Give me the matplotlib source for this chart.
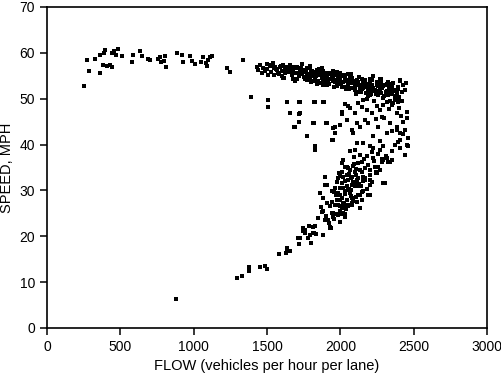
import matplotlib
matplotlib.use("Agg")
import matplotlib.pyplot as plt

# free-flow branch (low flow, high speed)
free_flow = [275, 327, 361, 391, 395, 441, 459, 486, 509, 384, 407, 441, 288, 361, 252,
             584, 577, 634, 645, 691, 770, 777, 805, 798, 811, 884, 918, 929, 975, 987,
             1009, 1066, 1084, 1089, 1123, 1100, 1225, 1248, 1334, 430, 470, 700, 760,
             1050, 1110]
free_speed = [58.5, 58.6, 59.5, 59.9, 60.6, 59.9, 60.3, 60.8, 59.3, 57.4, 57.2, 56.9, 56.0, 55.5, 52.7,
              59.5, 58.1, 60.4, 59.3, 58.6, 59.2, 58.1, 59.3, 58.3, 57.0, 59.9, 59.5, 58.1, 59.3, 58.3,
              57.6, 59.0, 57.7, 57.1, 59.3, 58.5, 56.6, 55.9, 58.4, 57.3, 59.6, 58.5, 58.6,
              58.0, 59.2]

# congested band near capacity (50-58 mph)
band_flow = [1430, 1452, 1475, 1498, 1520, 1543, 1464, 1509, 1566, 1589, 1611, 1634, 1657, 1680,
             1702, 1736, 1725, 1759, 1770, 1793, 1816, 1839, 1861, 1884, 1907, 1930, 1952, 1975,
             1998, 2020, 2043, 2066, 2089, 2111, 2134, 2157, 2180, 2202, 2225, 2248, 2270, 2293,
             2316, 2339, 2361, 2384, 2407, 1440, 1485, 1530, 1555, 1580, 1600, 1620, 1645, 1670,
             1690, 1715, 1745, 1780, 1805, 1828, 1850, 1872, 1895, 1918, 1940, 1962, 1985, 2008,
             2030, 2055, 2077, 2100, 2122, 2145, 2168, 2190, 2213, 2236, 2258, 2280, 2305, 2328,
             2350, 2372, 2395, 2418, 1500, 1550, 1600, 1650, 1700, 1750, 1800, 1850, 1900, 1950,
             2000, 2050, 2100, 2150, 2200, 2250, 2300, 2350, 2400, 1525, 1575, 1625, 1675, 1725,
             1775, 1825, 1875, 1925, 1975, 2025, 2075, 2125, 2175, 2225, 2275, 2325, 2375, 2430,
             1610, 1690, 1760, 1840, 1910, 1980, 2060, 2140, 2210, 2290, 2370, 2440, 2445, 2420,
             1660, 1740, 1820, 1890, 1960, 2040, 2110, 2190, 2260, 2340, 2400, 2180, 2230, 2280,
             2130, 2080, 2010, 1880, 1795, 1705, 1615, 1545, 2320, 2355, 2390, 2245, 2195, 2155,
             1560, 1595, 1640, 1665, 1710, 1735, 1765, 1785, 1810, 1835, 1858, 1880, 1905, 1925,
             1948, 1970, 1993, 2015, 2035, 2058, 2082, 2105, 2128, 2150, 2172, 2196, 2218, 2240,
             2262, 2285, 2310, 2332, 2355, 2378, 1740, 1770, 1800, 1830, 1860, 1890, 1920, 1950,
             1980, 2010, 2040, 2070, 2100, 2130, 2160, 2190, 2220, 2250, 2280, 2310, 2340, 2365,
             1625, 1680, 1720, 1790, 1855, 1915, 1990, 2065, 2135, 2205, 2270, 2335, 2395, 2410]
band_speed = [57.0, 57.3, 56.6, 57.6, 57.1, 57.7, 55.6, 55.2, 56.3, 57.0, 57.3, 56.6, 57.3, 56.3,
              57.0, 57.6, 56.0, 56.3, 55.2, 56.6, 55.6, 56.3, 55.2, 56.0, 54.9, 55.6, 54.5, 55.2,
              54.1, 54.9, 53.8, 54.5, 53.4, 54.1, 53.0, 53.8, 52.7, 53.4, 52.3, 53.0, 51.9, 52.7,
              51.6, 52.3, 53.4, 51.2, 54.1, 56.2, 56.0, 55.8, 56.9, 55.4, 56.1, 55.6, 55.9, 55.1,
              55.5, 54.9, 55.8, 54.6, 55.0, 54.2, 55.5, 54.6, 55.1, 53.9, 54.8, 53.6, 54.4, 53.3,
              54.3, 52.9, 54.6, 52.8, 53.6, 52.2, 54.0, 51.8, 53.0, 52.0, 52.7, 51.3, 53.0, 50.8,
              52.5, 50.6, 52.6, 51.5, 56.4, 56.8, 55.0, 56.5, 56.8, 54.8, 56.0, 53.8, 54.4, 56.0,
              55.6, 55.3, 52.0, 52.9, 54.3, 51.5, 50.5, 51.9, 50.4, 57.4, 55.5, 57.0, 54.4, 55.3,
              56.8, 54.8, 56.8, 53.1, 55.9, 52.6, 55.4, 54.8, 51.2, 54.9, 53.6, 53.7, 49.9, 52.9,
              54.5, 53.9, 54.2, 53.1, 53.0, 53.0, 52.2, 51.5, 51.0, 50.2, 49.8, 51.8, 53.5, 49.5,
              56.9, 55.3, 53.9, 53.4, 52.6, 52.2, 51.1, 50.6, 50.7, 49.4, 50.1, 50.0, 49.5, 54.2,
              51.5, 52.4, 52.5, 53.0, 54.2, 54.2, 54.5, 55.1, 53.2, 48.7, 49.2, 51.1, 51.7, 52.3,
              56.5, 57.2, 56.9, 56.1, 55.7, 56.7, 55.9, 55.4, 56.1, 55.0, 55.8, 54.4, 55.5, 54.2,
              55.1, 54.0, 54.9, 53.7, 55.2, 53.5, 54.1, 53.9, 52.9, 54.4, 53.1, 52.6, 54.1, 51.7,
              53.5, 52.4, 51.4, 53.2, 51.0, 52.0, 56.1, 54.1, 53.6, 55.8, 53.4, 55.4, 53.3, 53.9,
              52.8, 55.1, 54.0, 53.7, 53.0, 51.4, 52.5, 51.2, 51.6, 53.7, 52.9, 50.9, 51.5, 51.7,
              56.2, 56.9, 55.2, 57.1, 56.4, 55.3, 53.6, 52.4, 52.4, 50.9, 54.3, 52.4, 52.2, 53.8]

# transition points between the band and the congested branch
mid_flow = [1505, 1509, 1634, 1720, 1820, 1889, 1657, 1720, 1720, 1684, 1820, 1902, 1770, 1827,
            1941, 1964, 1998, 2043, 2054, 2009, 1634, 1725, 1827, 1884, 1657, 1725, 1816, 1907,
            2009, 1691, 1770, 1827, 1827, 1952, 1964, 1948, 2066, 2123, 2157, 2100, 2077, 2089,
            2111, 2134, 2168, 2191, 2214, 2248, 2270, 2293, 2316, 2361, 2384, 2452, 2452, 2259,
            2339, 2384, 2407, 2316, 2225, 2270, 2157, 2111, 2430, 2441, 2384, 2350, 2407, 1392,
            2400, 2415, 2330, 2300, 2180, 2240, 2285, 2030, 2150]
mid_speed = [49.7, 48.1, 49.3, 49.3, 49.3, 49.3, 46.8, 46.7, 45.0, 43.9, 44.8, 44.6, 41.8, 39.2,
             41.0, 43.8, 44.3, 45.4, 48.4, 47.2, 49.3, 49.3, 49.3, 49.3, 46.8, 46.8, 44.6, 44.6,
             46.7, 43.9, 41.8, 39.6, 38.8, 43.5, 42.5, 41.0, 47.9, 49.0, 49.7, 46.8, 43.2, 42.5,
             44.6, 43.9, 45.4, 44.6, 46.8, 48.3, 47.5, 48.6, 49.3, 49.0, 46.8, 47.2, 45.7, 43.9,
             44.6, 43.2, 42.5, 42.5, 41.8, 40.7, 40.3, 40.3, 45.0, 43.2, 43.9, 42.9, 41.0, 50.3,
             48.0, 46.2, 47.7, 45.8, 47.6, 45.6, 46.1, 48.8, 48.2]

# congested branch (speed falling with flow)
cong_flow = [2202, 2225, 2270, 2293, 2373, 2464, 2464, 2441, 2339, 2293, 2225, 2180, 2134, 2100,
             2066, 2020, 2009, 2032, 2066, 2100, 2134, 2168, 2202, 2236, 2270, 2304, 2202, 2157,
             2111, 2077, 2043, 2009, 1986, 2009, 2043, 2077, 2123, 2157, 2191, 2202, 2032, 1998,
             1986, 2066, 2123, 2293, 1895, 1907, 1964, 1975, 2009, 2043, 2077, 2054, 2020, 1986,
             1884, 1930, 1952, 1986, 2020, 2134, 1884, 1918, 1952, 1816, 1930, 1759, 1793, 1884,
             1714, 1634, 2452, 2407, 2441, 2384, 2350, 2407, 2327, 2350, 2282, 2248, 1895, 1748,
             1816, 1930, 1998, 2043, 1964, 2009, 2054, 2089, 2123, 2157, 2100, 2134, 2020, 1986,
             2202, 2214, 2060, 2090, 2150, 2170, 2115, 2050, 2000, 2180, 2240, 2105, 2075, 2140,
             2025, 1960, 1940, 2260, 2310, 2215, 2160, 2090, 2045, 1990, 2035, 2070, 2110, 2145,
             2190, 2230, 2255, 2120, 2085, 2050, 2015, 1975, 1945, 2060, 2095, 2130, 2165, 2200,
             2245, 2285, 2320, 2355, 2395, 2425, 2185, 2150, 2110, 2070, 2030, 2000, 1970, 2080,
             2115, 2150, 2000, 2040, 2080, 1955, 1995, 2030, 1920, 1910, 1870, 1850, 1860]
cong_speed = [39.6, 39.2, 38.8, 39.6, 39.9, 41.4, 39.6, 37.7, 36.3, 36.6, 37.0, 37.4, 37.7, 38.8,
              38.5, 36.6, 35.9, 35.2, 34.5, 34.1, 34.5, 34.8, 34.5, 35.2, 34.5, 31.6, 32.3, 32.0,
              32.3, 33.0, 33.4, 34.1, 32.6, 31.6, 30.9, 31.2, 30.9, 29.8, 29.0, 31.2, 29.8, 30.5,
              29.4, 29.4, 29.0, 31.6, 33.0, 31.2, 30.5, 27.9, 28.3, 27.9, 28.3, 26.5, 27.2, 26.8,
              28.3, 26.5, 25.0, 24.7, 25.0, 26.1, 25.4, 23.5, 24.3, 22.1, 21.7, 21.4, 20.3, 20.3,
              19.6, 17.4, 39.9, 41.0, 43.2, 43.9, 42.9, 39.2, 36.3, 36.6, 36.3, 33.7, 31.2, 21.7,
              20.6, 22.1, 29.0, 27.9, 26.8, 26.1, 30.1, 31.9, 32.6, 33.0, 30.9, 29.0, 30.5, 24.7,
              29.0, 31.9, 33.6, 35.8, 36.2, 32.7, 31.5, 32.2, 33.2, 30.3, 33.8, 34.6, 30.0, 31.0,
              27.0, 29.6, 27.4, 35.0, 37.5, 38.3, 36.8, 37.3, 35.1, 33.7, 32.0, 32.8, 33.4, 34.0,
              35.6, 36.4, 37.9, 36.0, 35.3, 34.8, 33.0, 31.9, 29.9, 30.4, 31.1, 31.5, 32.3, 33.3,
              34.0, 36.9, 37.0, 38.6, 40.5, 42.4, 30.2, 29.6, 28.6, 28.8, 29.2, 28.0, 28.9, 26.9,
              27.5, 28.0, 25.6, 25.9, 27.2, 23.8, 23.1, 24.1, 22.8, 27.2, 26.4, 24.0, 29.5]

# low-speed tail
tail_flow = [1293, 1327, 1380, 1380, 1452, 1486, 1498, 1582, 1630, 1639, 1657, 1718, 1725, 1748,
             1759, 1789, 1827, 1782, 1800, 1823, 1834, 1884, 1895, 1934, 1902, 1873, 1941, 1975,
             2009, 2032, 1964, 1998, 2032, 2054, 2134, 2089, 880]
tail_speed = [10.8, 11.3, 12.5, 13.4, 13.2, 13.5, 12.8, 16.1, 16.4, 17.2, 16.8, 18.3, 19.6, 21.2,
              20.8, 22.2, 22.2, 19.6, 18.6, 20.6, 20.5, 20.3, 23.5, 21.9, 24.4, 25.2, 25.0, 24.8,
              24.9, 24.9, 26.8, 26.5, 26.1, 26.8, 26.1, 27.6, 6.3]

flows = free_flow + band_flow + mid_flow + cong_flow + tail_flow
speeds = free_speed + band_speed + mid_speed + cong_speed + tail_speed

plt.rcParams["font.family"] = ["Liberation Sans", "DejaVu Sans"]
fig = plt.figure(figsize=(5.02, 3.80), dpi=100)
ax = fig.add_axes([0.0936, 0.137, 0.8765, 0.8446])
ax.scatter(flows, speeds, s=5, marker="s", c="black", linewidths=0)

ax.set_xlim(0, 3000)
ax.set_ylim(0, 70)
ax.set_xticks(range(0, 3001, 500))
ax.set_yticks(range(0, 71, 10))
ax.tick_params(direction="out", length=5, width=1.1, labelsize=10, colors="black")
for sp in ax.spines.values():
    sp.set_linewidth(1.2)
ax.set_xlabel("FLOW (vehicles per hour per lane)", fontsize=10.5, labelpad=4)
ax.set_ylabel("SPEED, MPH", fontsize=10.5, labelpad=4)

fig.savefig("out.png", dpi=100)
